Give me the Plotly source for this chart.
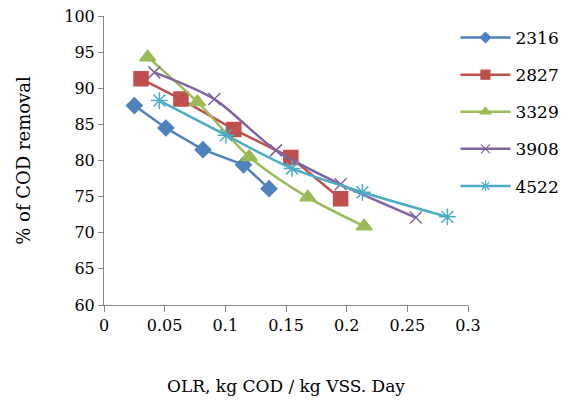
import plotly.graph_objects as go

names = ["2316", "2827", "3329", "3908", "4522"]
olr_2316 = [0.025, 0.051, 0.0816, 0.115, 0.136]
cod_2316 = [87.6, 84.5, 81.5, 79.4, 76.1]
olr_2827 = [0.0305, 0.0634, 0.107, 0.154, 0.195]
cod_2827 = [91.3, 88.5, 84.3, 80.4, 74.7]
olr_3329 = [0.036, 0.077, 0.1197, 0.168, 0.2144]
cod_3329 = [94.3, 88.1, 80.5, 74.9, 70.9]
olr_3908 = [0.0415, 0.0909, 0.1417, 0.195, 0.257]
cod_3908 = [92.2, 88.5, 81.4, 76.7, 72.1]
olr_4522 = [0.0456, 0.1005, 0.155, 0.213, 0.283]
cod_4522 = [88.3, 83.5, 78.9, 75.6, 72.2]
x_ticks = [0, 0.05, 0.1, 0.15, 0.2, 0.25, 0.3]
x_tick_labels = ["0", "0.05", "0.1", "0.15", "0.2", "0.25", "0.3"]
y_ticks = [60, 65, 70, 75, 80, 85, 90, 95, 100]

xs = [olr_2316, olr_2827, olr_3329, olr_3908, olr_4522]
ys = [cod_2316, cod_2827, cod_3329, cod_3908, cod_4522]
colors = ["#4F81BD", "#C0504D", "#9BBB59", "#8064A2", "#4BACC6"]
symbols = ["diamond", "square", "triangle-up", "x-thin-open", "asterisk-open"]
sizes = [12, 14, 14, 12, 14]
legend_sizes = [8, 9, 9, 9, 9]
shapes = ["linear", "linear", "spline", "spline", "spline"]

fig = go.Figure()
for i in range(5):
    fig.add_trace(go.Scatter(
        x=xs[i], y=ys[i], name=names[i], mode="lines+markers",
        legendgroup=names[i], showlegend=False,
        line=dict(color=colors[i], width=2.5, shape=shapes[i], smoothing=0.8),
        marker=dict(symbol=symbols[i], size=sizes[i], color=colors[i],
                    line=dict(color=colors[i], width=1.5)),
    ))
for i in range(5):
    fig.add_trace(go.Scatter(
        x=[None], y=[None], name=names[i], mode="lines+markers",
        legendgroup=names[i], showlegend=True,
        line=dict(color=colors[i], width=2.5),
        marker=dict(symbol=symbols[i], size=legend_sizes[i], color=colors[i],
                    line=dict(color=colors[i], width=1.2)),
    ))

fam = "DejaVu Serif"
font = dict(family=fam, size=16, color="#000000")
fig.update_layout(
    width=570, height=400,
    margin=dict(l=96, r=110, t=8, b=103, autoexpand=False),
    paper_bgcolor="white", plot_bgcolor="white",
    font=font,
    showlegend=True,
    legend=dict(xref="container", yref="container", x=0.785, xanchor="left",
                y=0.97, yanchor="top", itemwidth=50,
                tracegroupgap=12, font=dict(family=fam, size=17, color="#000000"),
                bgcolor="rgba(0,0,0,0)"),
    xaxis=dict(range=[0, 0.3], tickvals=x_ticks, ticktext=x_tick_labels,
               showgrid=False, zeroline=False, showline=True, linecolor="#868686",
               linewidth=1, ticks="outside", ticklen=6, tickcolor="#868686",
               automargin=False, ticklabeloverflow="allow",
               title=dict(text="OLR, kg COD / kg VSS. Day", standoff=45,
                          font=dict(family=fam, size=17, color="#000000")),
               tickfont=font),
    yaxis=dict(range=[60, 100], tickvals=y_ticks,
               showgrid=False, zeroline=False, showline=True, linecolor="#868686",
               linewidth=1, ticks="outside", ticklen=5, tickcolor="#868686",
               automargin=False, ticklabeloverflow="allow",
               title=dict(text="% of COD removal", standoff=28,
                          font=dict(family=fam, size=18, color="#000000")),
               tickfont=font),
)
fig.write_html("out.html")
